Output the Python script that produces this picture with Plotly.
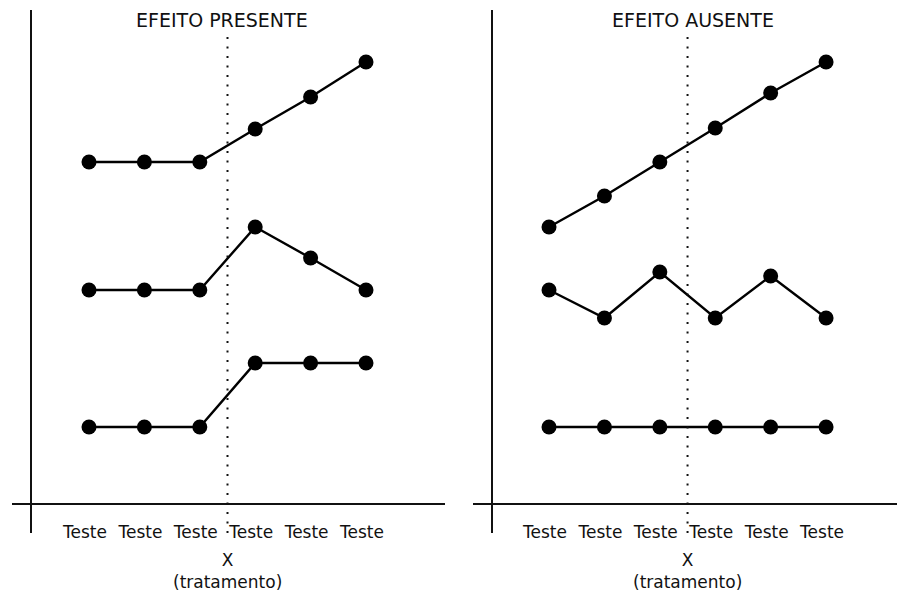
import plotly.graph_objects as go

W, H = 897, 596

# ---- data ----
tests = [1, 2, 3, 4, 5, 6]
tick_labels = ["Teste"] * 6
treat_pos = 3.5

present_top = [34.1, 34.1, 34.1, 37.4, 40.6, 44.1]
present_mid = [21.3, 21.3, 21.3, 27.6, 24.5, 21.3]
present_bot = [7.6, 7.6, 7.6, 14.0, 14.0, 14.0]

absent_top = [27.6, 30.7, 34.1, 37.5, 41.0, 44.1]
absent_mid = [21.3, 18.5, 23.1, 18.5, 22.7, 18.5]
absent_bot = [7.6, 7.6, 7.6, 7.6, 7.6, 7.6]

titles = ["EFEITO PRESENTE", "EFEITO AUSENTE"]
x_title = "X<br>(tratamento)"

FONT = "DejaVu Sans"
INK = "#111111"

fig = go.Figure()

def add_series(ys, xa, ya):
    fig.add_trace(go.Scatter(
        x=tests, y=ys, xaxis=xa, yaxis=ya, mode="lines+markers",
        line=dict(color="black", width=2.4),
        marker=dict(color="black", size=15),
        showlegend=False, hoverinfo="skip", cliponaxis=False))

for s in (present_top, present_mid, present_bot):
    add_series(s, "x", "y")
for s in (absent_top, absent_mid, absent_bot):
    add_series(s, "x2", "y2")

def px_x(p):
    return p / W

def px_y(p):
    return (H - p) / H

ydom = [px_y(533), px_y(10)]
yrange = [-3.0, 49.3]

axis_common = dict(showgrid=False, zeroline=False, showline=True,
                   linecolor=INK, linewidth=2)

fig.update_layout(
    width=W, height=H,
    margin=dict(l=0, r=0, t=0, b=0),
    paper_bgcolor="white", plot_bgcolor="rgba(0,0,0,0)",
    font=dict(family=FONT, color=INK, size=17),
    xaxis=dict(domain=[px_x(12), px_x(445)], range=[-0.39, 7.426],
               anchor="free", position=px_y(503.5),
               tickvals=tests, ticktext=tick_labels, ticks="",
               ticklabelstandoff=13, ticklabelshift=-4,
               tickfont=dict(size=17, family=FONT, color=INK),
               **axis_common),
    xaxis2=dict(domain=[px_x(473), 1.0], range=[-0.372, 7.28],
                anchor="free", position=px_y(503.5),
                tickvals=tests, ticktext=tick_labels, ticks="",
                ticklabelstandoff=13, ticklabelshift=-4,
                tickfont=dict(size=17, family=FONT, color=INK),
                **axis_common),
    yaxis=dict(domain=ydom, range=yrange, anchor="free",
               position=px_x(31), showticklabels=False, ticks="",
               **axis_common),
    yaxis2=dict(domain=ydom, range=yrange, anchor="free",
                position=px_x(491.5), showticklabels=False, ticks="",
                **axis_common),
)

# dotted treatment lines
for xr, yr in (("x", "y"), ("x2", "y2")):
    fig.add_shape(type="line", xref=xr, yref=yr,
                  x0=treat_pos, x1=treat_pos, y0=-3.0, y1=46.8,
                  line=dict(color=INK, width=2, dash="2px,7.5px"))
    fig.add_annotation(xref=xr, yref="paper", x=treat_pos, y=px_y(548),
                       yanchor="top", xanchor="center", showarrow=False,
                       text=x_title, align="center",
                       font=dict(size=17, family=FONT, color=INK))

for t, xc in zip(titles, (222, 692.5)):
    fig.add_annotation(xref="paper", yref="paper", x=px_x(xc), y=px_y(19.5),
                       xanchor="center", yanchor="middle", showarrow=False,
                       text=t, font=dict(size=19, family=FONT, color=INK))

fig.write_html(
    "out.html",
    config={"displayModeBar": False, "staticPlot": True},
    post_script="document.body.style.margin='0px';document.body.style.overflow='hidden';",
)
